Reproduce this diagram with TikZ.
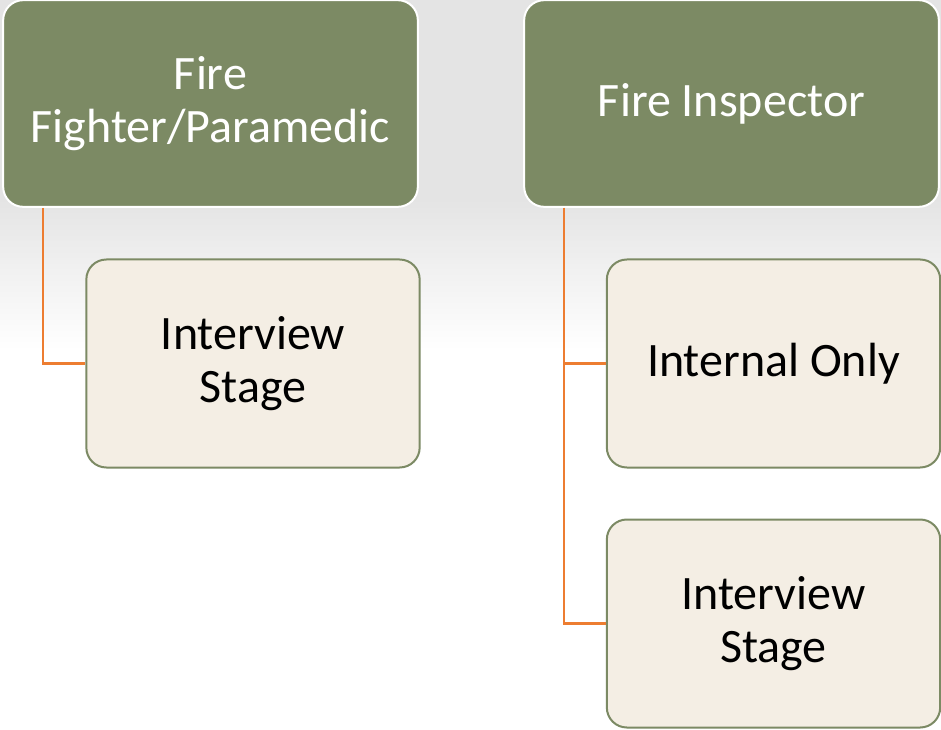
\documentclass[tikz,border=0pt]{standalone}
\usepackage{fontspec}
\setmainfont{Carlito}
\definecolor{olive}{HTML}{7C8A64}
\definecolor{cream}{HTML}{F4EEE4}
\definecolor{linkorange}{HTML}{ED7D31}
\definecolor{bggray}{HTML}{E4E4E4}
\tikzset{
  head/.style={draw=white, line width=1.5pt, fill=olive, rounded corners=15pt,
    minimum width=311pt, minimum height=155pt, inner sep=0pt, align=center,
    text=white, font=\fontsize{36}{39.5}\selectfont},
  leaf/.style={draw=olive, line width=1.5pt, fill=cream, rounded corners=15pt,
    minimum width=250pt, minimum height=156pt, inner sep=0pt, align=center,
    text=black, font=\fontsize{36}{39.5}\selectfont},
  link/.style={draw=linkorange, line width=1.8pt}
}
\begin{document}
\begin{tikzpicture}[x=0.75pt, y=-0.75pt]
    % background
    \useasboundingbox (0, 0) rectangle (941, 730) ;
    \fill[white] (0, 0) rectangle (941, 730) ;
    \fill[bggray] (0, 0) rectangle (941, 200) ;
    \shade[top color=bggray, bottom color=white] (0, 199) rectangle (941, 350) ;
    % top row
    \node[head] (fighter) at (210.5, 103.5) {Fire\\Fighter/Paramedic} ;
    \node[head] (inspector) at (731.5, 103.5) {Fire Inspector} ;
    % children
    \node[leaf] (fstage) at (253, 363.5) {Interview\\Stage} ;
    \node[leaf] (internal) at (773.5, 363.5) {Internal Only} ;
    \node[leaf] (istage) at (773.5, 623.5) {Interview\\Stage} ;
    % connectors
    \draw[link] ([xshift=30.75pt]fighter.south west) |- (fstage.west) ;
    \draw[link] ([xshift=30.75pt]inspector.south west) |- (internal.west) ;
    \draw[link] ([xshift=30.75pt]inspector.south west) |- (istage.west) ;
  \end{tikzpicture}
\end{document}
